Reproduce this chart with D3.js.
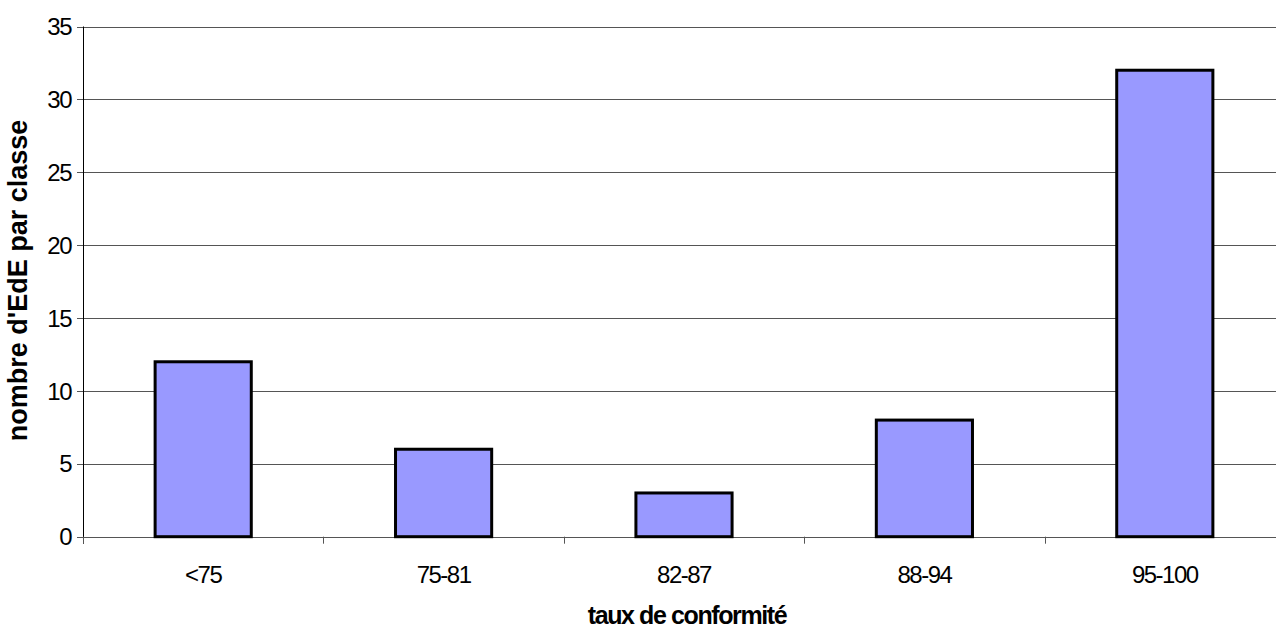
<!DOCTYPE html>
<html>
<head>
<meta charset="utf-8">
<script src="https://cdn.jsdelivr.net/npm/d3@7"></script>
<style>
  body { margin: 0; background: #fff; }
  text { font-family: "Liberation Sans", Arial, sans-serif; }
</style>
</head>
<body>
<script>
var categories = ["<75", "75-81", "82-87", "88-94", "95-100"];
var values = [12, 6, 3, 8, 32];
var yTicks = [0, 5, 10, 15, 20, 25, 30, 35];

function init () {
  var w = 1276, h = 631;
  var left = 83, right = 1285, top = 26.5, bottom = 536.7;

  var svg = d3.select("body").append("svg")
    .attr("width", w)
    .attr("height", h);

  var xScale = d3.scaleBand()
    .domain(categories)
    .range([left, right])
    .paddingInner(0.6)
    .paddingOuter(0.3);

  var yScale = d3.scaleLinear()
    .domain([0, 35])
    .range([bottom, top]);

  // gridlines
  svg.selectAll("line.grid")
    .data(yTicks)
    .enter()
    .append("line")
    .attr("class", "grid")
    .attr("x1", left - 6)
    .attr("x2", right)
    .attr("y1", function(d) { return Math.round(yScale(d)) + 0.5; })
    .attr("y2", function(d) { return Math.round(yScale(d)) + 0.5; })
    .attr("stroke", "#555")
    .attr("stroke-width", 1);

  // y tick labels
  svg.selectAll("text.ytick")
    .data(yTicks)
    .enter()
    .append("text")
    .attr("class", "ytick")
    .attr("x", 71)
    .attr("y", function(d) { return yScale(d); })
    .attr("dy", "0.36em")
    .attr("text-anchor", "end")
    .attr("font-size", 24)
    .attr("letter-spacing", -1.5)
    .attr("fill", "#000")
    .text(function(d) { return d; });

  // bars
  svg.selectAll("rect")
    .data(values)
    .enter()
    .append("rect")
    .attr("x", function(d, i) { return xScale(categories[i]); })
    .attr("y", function(d) { return yScale(d); })
    .attr("width", xScale.bandwidth())
    .attr("height", function(d) { return bottom - yScale(d); })
    .attr("fill", "#9999ff")
    .attr("stroke", "#000")
    .attr("stroke-width", 3);

  // y axis line
  svg.append("line")
    .attr("x1", left + 0.5).attr("x2", left + 0.5)
    .attr("y1", top).attr("y2", bottom + 7)
    .attr("stroke", "#000")
    .attr("stroke-width", 1);

  // x category ticks
  var step = xScale.step();
  var xTickPos = d3.range(categories.length + 1).map(function(i) { return left + i * step; });
  svg.selectAll("line.xtick")
    .data(xTickPos)
    .enter()
    .append("line")
    .attr("class", "xtick")
    .attr("x1", function(d) { return Math.round(d) + 0.5; })
    .attr("x2", function(d) { return Math.round(d) + 0.5; })
    .attr("y1", bottom)
    .attr("y2", bottom + 7)
    .attr("stroke", "#555");

  // x labels
  svg.selectAll("text.xlab")
    .data(categories)
    .enter()
    .append("text")
    .attr("class", "xlab")
    .attr("x", function(d) { return xScale(d) + xScale.bandwidth() / 2; })
    .attr("y", 583)
    .attr("text-anchor", "middle")
    .attr("font-size", 24)
    .attr("letter-spacing", -1.5)
    .text(function(d) { return d; });

  // axis titles
  svg.append("text")
    .attr("x", 687)
    .attr("y", 624)
    .attr("text-anchor", "middle")
    .attr("font-size", 25)
    .attr("font-weight", "bold")
    .attr("letter-spacing", -1.4)
    .text("taux de conformit\u00e9");

  svg.append("text")
    .attr("transform", "translate(27,280.5) rotate(-90)")
    .attr("text-anchor", "middle")
    .attr("font-size", 27)
    .attr("font-weight", "bold")
    .text("nombre d'EdE par classe");
}

window.onload = init;
</script>
</body>
</html>
